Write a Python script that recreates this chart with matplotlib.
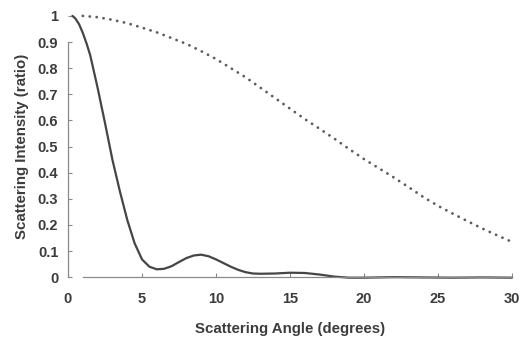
import numpy as np
import matplotlib
matplotlib.use("Agg")
import matplotlib.pyplot as plt

plt.rcParams['font.family'] = ['Liberation Sans', 'DejaVu Sans']

# solid curve: scattering from the larger particle
angle_solid = [0.3, 0.5, 0.75, 1.0, 1.25, 1.5, 2.0, 2.5, 3.0, 3.5, 4.0,
               4.5, 5.0, 5.5, 6.0, 6.5, 7.0, 7.5, 8.0, 8.5, 9.0, 9.5, 10.0,
               10.5, 11.0, 11.5, 12.0, 12.5, 13.0, 14.0, 15.0, 16.0, 17.0,
               18.0, 19.0, 20.0, 22.0, 24.0, 26.0, 28.0, 30.0]
intensity_solid = [1.0, 0.99, 0.968, 0.935, 0.895, 0.85, 0.725, 0.59, 0.45,
                   0.33, 0.22, 0.13, 0.068, 0.04, 0.03, 0.032, 0.042, 0.058,
                   0.073, 0.083, 0.086, 0.08, 0.068, 0.054, 0.04, 0.028,
                   0.019, 0.014, 0.013, 0.014, 0.017, 0.016, 0.01, 0.002,
                   -0.002, -0.002, 0.0, -0.001, -0.002, -0.001, -0.002]

# dotted curve: scattering from the smaller particle
angle_dotted = [1, 2, 3, 4, 5, 6, 7, 8, 9, 10, 11, 12, 13, 14, 15, 16, 17,
                18, 19, 20, 21, 22, 23, 24, 25, 26, 27, 28, 29, 30]
intensity_dotted = [1.0, 0.995, 0.985, 0.972, 0.955, 0.937, 0.915, 0.893,
                    0.865, 0.835, 0.80, 0.765, 0.725, 0.685, 0.645, 0.605,
                    0.568, 0.53, 0.49, 0.452, 0.417, 0.382, 0.345, 0.307,
                    0.273, 0.243, 0.214, 0.186, 0.16, 0.135]

x_ticks = [0, 5, 10, 15, 20, 25, 30]
y_ticks = [0, 0.1, 0.2, 0.3, 0.4, 0.5, 0.6, 0.7, 0.8, 0.9, 1]
y_labels = ['0', '0.1', '0.2', '0.3', '0.4', '0.5', '0.6', '0.7', '0.8',
            '0.9', '1']

ink = '#3c3c3c'

fig = plt.figure(figsize=(5.23, 3.38), dpi=100)
ax = fig.add_axes([0.130, 0.180, 0.849, 0.773])

ax.plot(angle_solid, intensity_solid, color='#454545', lw=1.6,
        solid_capstyle='round', solid_joinstyle='round', clip_on=False)
# round dots: near-zero dash with round caps
ax.plot(angle_dotted, intensity_dotted, color='#5c5c5c', lw=2.0,
        linestyle=(0, (0.05, 2.45)), dash_capstyle='round', clip_on=False)

ax.set_xlim(0, 30)
ax.set_ylim(0, 1)

for side in ['top', 'right']:
    ax.spines[side].set_visible(False)
ax.spines['left'].set_bounds(0, 0.9)
ax.spines['bottom'].set_bounds(1, 30)
for side in ['left', 'bottom']:
    ax.spines[side].set_color('#8a8a8a')
    ax.spines[side].set_linewidth(0.9)

ax.set_xticks(x_ticks)
ax.set_yticks(y_ticks)
ax.set_yticklabels(y_labels)
ax.tick_params(axis='x', direction='in', length=3, width=0.8,
               color='#8a8a8a', pad=11, labelsize=10.5, labelcolor=ink)
ax.tick_params(axis='y', direction='in', length=3, width=0.8,
               color='#8a8a8a', pad=7, labelsize=10.5, labelcolor=ink)
for lbl in ax.get_xticklabels() + ax.get_yticklabels():
    lbl.set_fontweight('bold')

ax.set_xlabel('Scattering Angle (degrees)', fontsize=10.8, color=ink,
              fontweight='bold', labelpad=11)
ax.set_ylabel('Scattering Intensity (ratio)', fontsize=10.8, color=ink,
              fontweight='bold', labelpad=6)

fig.savefig('out.png', dpi=100)
